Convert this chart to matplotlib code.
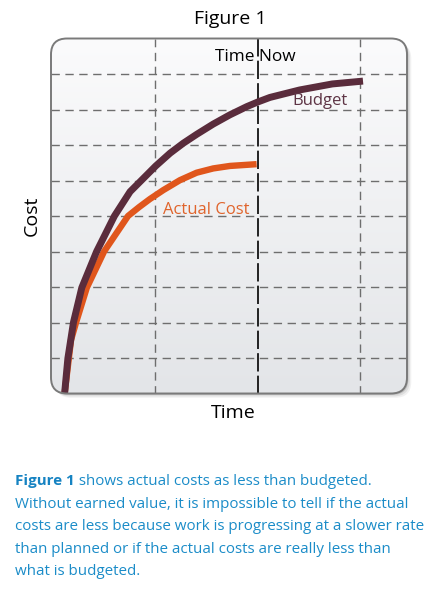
import numpy as np
import matplotlib.pyplot as plt
from matplotlib.colors import LinearSegmentedColormap
from matplotlib.patches import FancyBboxPatch

# time axis: grid lines at 1, 2, 3 ; "Time Now" at 2 ; cost axis 0..10
budget_t = [0.113, 0.145, 0.20, 0.281, 0.426, 0.60, 0.753, 0.883, 1.004, 1.144, 1.273,
            1.404, 1.566, 1.729, 1.893, 2.00, 2.12, 2.41, 2.73, 3.03]
budget_c = [0.00, 0.99, 2.01, 2.98, 4.00, 5.00, 5.685, 6.06, 6.41, 6.77, 7.05,
            7.30, 7.59, 7.85, 8.08, 8.21, 8.34, 8.55, 8.72, 8.80]
actual_t = [0.113, 0.176, 0.226, 0.33, 0.499, 0.733, 0.841, 0.948, 1.078, 1.241, 1.404,
            1.566, 1.729, 1.99]
actual_c = [0.00, 1.51, 2.01, 2.98, 4.00, 5.00, 5.25, 5.48, 5.73, 6.01, 6.22,
            6.34, 6.41, 6.46]
time_now = 2.0
v_grid = [1, 3]
h_grid = [1, 2, 3, 4, 5, 6, 7, 8, 9]

caption = [
    "Without earned value, it is impossible to tell if the actual",
    "costs are less because work is progressing at a slower rate",
    "than planned or if the actual costs are really less than",
    "what is budgeted.",
]

FONT = "Open Sans"
W, H = 436, 590


def fy(py):
    return 1 - py / H


def fx(px):
    return px / W


fig = plt.figure(figsize=(4.36, 5.90), dpi=100)
ax = fig.add_axes([fx(51), fy(393.5), fx(407) - fx(51), fy(38.5) - fy(393.5)])
ax.set_xlim(-0.02, 3.46)
ax.set_ylim(0, 10)
ax.axis("off")

# soft shadow behind the panel
for off, a in [(0.012, 0.08), (0.008, 0.12), (0.004, 0.22)]:
    sh = FancyBboxPatch((off, -off), 1, 1, boxstyle="round,pad=0,rounding_size=0.045",
                        transform=ax.transAxes, fc="#555555", ec="none", alpha=a,
                        clip_on=False, zorder=0)
    ax.add_patch(sh)

panel = FancyBboxPatch((0, 0), 1, 1, boxstyle="round,pad=0,rounding_size=0.045",
                       transform=ax.transAxes, fc="none", ec="#7a7a7a", lw=1.4,
                       clip_on=False, zorder=5)
ax.add_patch(panel)

grad = np.linspace(0, 1, 256).reshape(-1, 1)
bg = LinearSegmentedColormap.from_list("bg", ["#fbfbfc", "#e3e5e8"])
im = ax.imshow(grad, extent=(-0.02, 3.46, 0, 10), aspect="auto", origin="upper",
               cmap=bg, zorder=1)
im.set_clip_path(panel)

for y in h_grid:
    l = ax.axhline(y, color="#6e6e6e", lw=1.0, ls=(0, (6, 4)), zorder=2)
    l.set_clip_path(panel)
for x in v_grid:
    l = ax.axvline(x, color="#6e6e6e", lw=1.0, ls=(0, (6, 4)), zorder=2)
    l.set_clip_path(panel)
l = ax.axvline(time_now, color="black", lw=1.2, ls=(0, (11, 2.5)), zorder=2)
l.set_clip_path(panel)

l, = ax.plot(actual_t, actual_c, color="#e0561c", lw=4.6, solid_capstyle="butt",
             solid_joinstyle="round", zorder=3)
l.set_clip_path(panel)
l, = ax.plot(budget_t, budget_c, color="#5a2c3c", lw=5.0, solid_capstyle="butt",
             solid_joinstyle="round", zorder=4)
l.set_clip_path(panel)

fig.text(fx(230), fy(19), "Figure 1", fontsize=14, family=FONT, ha="center", va="center")
fig.text(fx(255.5), fy(57), "Time Now", fontsize=12.4, family=FONT, ha="center", va="center")
fig.text(fx(320), fy(101), "Budget", fontsize=12, family=FONT, color="#5e3445",
         ha="center", va="center")
fig.text(fx(206), fy(210), "Actual Cost", fontsize=12, family=FONT, color="#e0642c",
         ha="center", va="center")
fig.text(fx(32), fy(216), "Cost", fontsize=14, family=FONT, rotation=90,
         ha="center", va="center")
fig.text(fx(233), fy(413), "Time", fontsize=14, family=FONT, ha="center", va="center")

blue = "#1b8cc8"
base = 485
step = 22.6
t1 = fig.text(fx(15), fy(base), "Figure 1", fontsize=10.9, family=FONT, weight="bold",
              color="#1683c2", ha="left", va="baseline")
ax.annotate(" shows actual costs as less than budgeted.", xy=(1, fy(base)),
            xycoords=(t1, "figure fraction"), fontsize=10.9, family=FONT, color=blue,
            ha="left", va="baseline", annotation_clip=False)
for i, line in enumerate(caption):
    fig.text(fx(15), fy(base + step * (i + 1)), line, fontsize=10.9, family=FONT,
             color=blue, ha="left", va="baseline")

fig.savefig("out.png", dpi=100, facecolor="white")
